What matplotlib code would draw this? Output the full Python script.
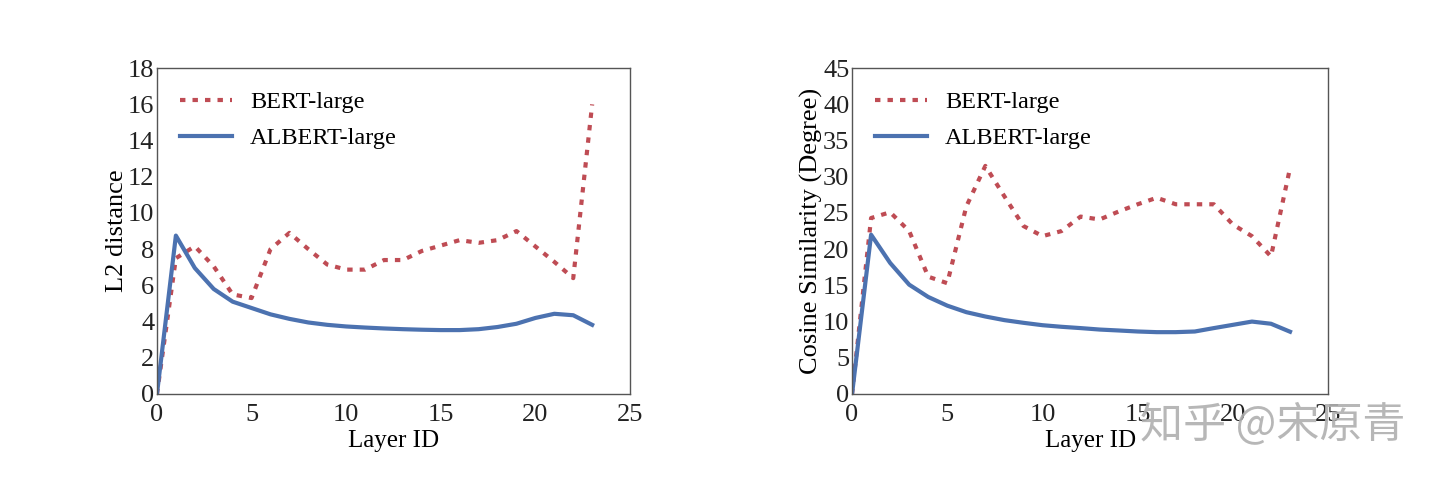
import matplotlib
matplotlib.use("Agg")
import matplotlib.pyplot as plt

layers = list(range(24))

bert_l2 = [0, 7.5, 8.16, 7.05, 5.5, 5.3, 8.0, 8.9, 8.0, 7.15, 6.87, 6.87, 7.4, 7.4,
           7.9, 8.2, 8.5, 8.35, 8.5, 9.0, 8.15, 7.3, 6.4, 16.0]
albert_l2 = [0, 8.75, 6.96, 5.8, 5.1, 4.75, 4.4, 4.15, 3.95, 3.82, 3.73, 3.67, 3.62, 3.58,
             3.55, 3.53, 3.53, 3.58, 3.7, 3.88, 4.2, 4.43, 4.35, 3.82]

bert_cos = [0, 24.3, 25.1, 22.5, 16.2, 15.3, 25.9, 31.5, 27.3, 23.2, 21.8, 22.5, 24.5, 24.1,
            25.2, 26.2, 27.1, 26.2, 26.2, 26.2, 23.4, 21.8, 19.0, 31.2]
albert_cos = [0, 22.0, 18.1, 15.1, 13.4, 12.2, 11.3, 10.7, 10.2, 9.83, 9.5, 9.28, 9.1, 8.9,
              8.77, 8.63, 8.54, 8.54, 8.63, 9.1, 9.55, 10.0, 9.7, 8.6]

series_labels = ["BERT-large", "ALBERT-large"]
ylabels = ["L2 distance", "Cosine Similarity (Degree)"]
xlabel = "Layer ID"
watermark = "知乎 @宋原青"

plt.rcParams['font.family'] = ['Liberation Serif', 'DejaVu Serif']

RED = "#BF4C54"
BLUE = "#4C72B0"
SPINE = "#555555"

fig = plt.figure(figsize=(14.4, 4.82), dpi=100)
ax1 = fig.add_axes([0.109, 0.1826, 0.3285, 0.676])
ax2 = fig.add_axes([0.5917, 0.1826, 0.3306, 0.676])

panels = [
    (ax1, bert_l2, albert_l2, ylabels[0], (0, 18), list(range(0, 19, 2))),
    (ax2, bert_cos, albert_cos, ylabels[1], (0, 45), list(range(0, 46, 5))),
]

for ax, b, a, yl, ylim, yt in panels:
    ax.plot(layers, b, color=RED, lw=3, linestyle=(0, (1.3, 1.7)), label=series_labels[0])
    ax.plot(layers, a, color=BLUE, lw=3, label=series_labels[1])
    ax.set_xlim(0, 25)
    ax.set_ylim(*ylim)
    ax.set_xticks([0, 5, 10, 15, 20, 25])
    ax.set_yticks(yt)
    ax.set_xlabel(xlabel, fontsize=18, labelpad=3)
    ax.set_ylabel(yl, fontsize=19, labelpad=0)
    ax.tick_params(axis='x', length=0, labelsize=19, pad=7, colors="#222222")
    ax.tick_params(axis='y', length=0, labelsize=19, pad=2, colors="#222222")
    for s in ax.spines.values():
        s.set_color(SPINE)
        s.set_linewidth(1.0)
    ax.legend(loc="upper left", frameon=False, fontsize=17.5, handlelength=2.15,
              handletextpad=0.72, borderaxespad=0.55, borderpad=0.4, labelspacing=0.58)

fig.text(0.792, 0.118, watermark, fontsize=31, color="#b0b0b0", alpha=0.9,
         family=['Noto Sans CJK SC', 'DejaVu Sans'], va='center', ha='left')

fig.savefig("out.png", dpi=100, facecolor="white")
